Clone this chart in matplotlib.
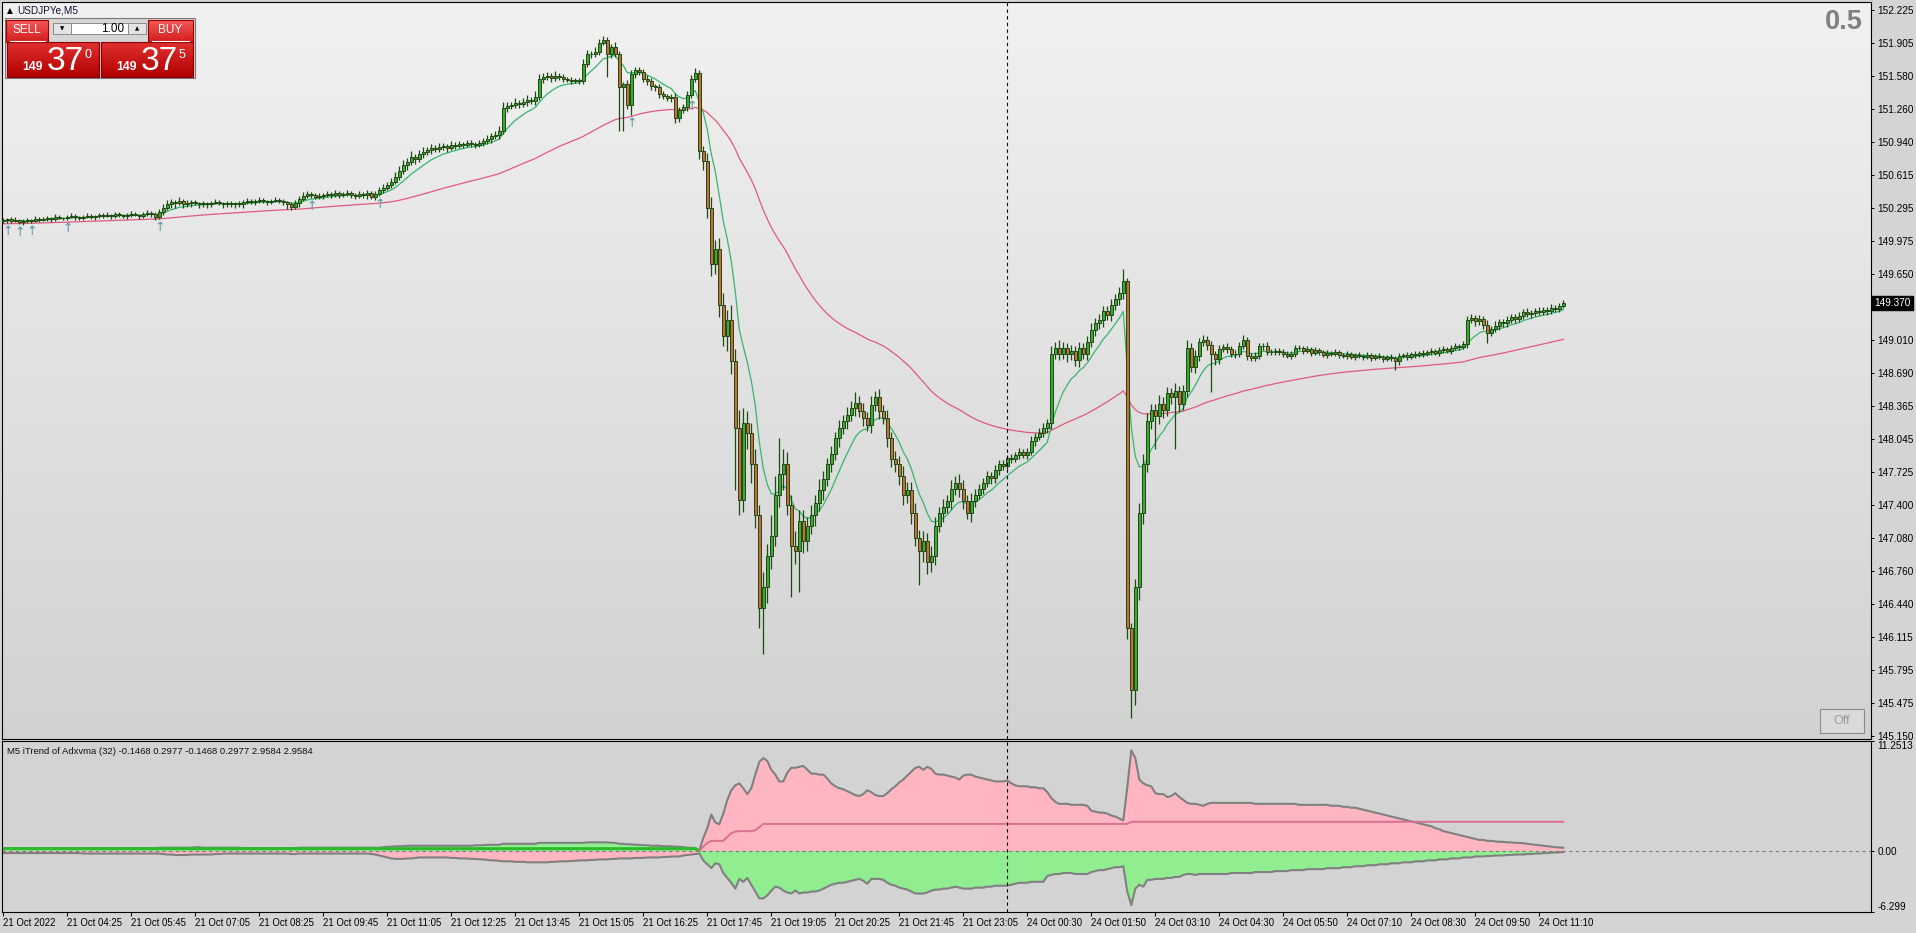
import numpy as np
import pandas as pd
import matplotlib
matplotlib.use('Agg')
import matplotlib.pyplot as plt
from matplotlib.patches import Rectangle

plt.rcParams['font.family'] = ['Liberation Sans', 'DejaVu Sans']
plt.rcParams['font.size'] = 7

W, H = 1916, 933

## --- price data: M5 closes, open = previous close; wicks in pips (0.01) ---
first_open = 150.17
closes = [
    150.18, 150.19, 150.17, 150.18, 150.16, 150.17, 150.18, 150.17, 150.19, 150.18,
    150.19, 150.20, 150.19, 150.21, 150.20, 150.20, 150.21, 150.22, 150.21, 150.20,
    150.21, 150.22, 150.21, 150.22, 150.23, 150.22, 150.23, 150.22, 150.24, 150.23,
    150.22, 150.23, 150.24, 150.23, 150.22, 150.24, 150.25, 150.24, 150.21, 150.26,
    150.30, 150.33, 150.35, 150.34, 150.36, 150.33, 150.34, 150.35, 150.34, 150.33,
    150.34, 150.33, 150.34, 150.35, 150.34, 150.33, 150.34, 150.33, 150.34, 150.33,
    150.35, 150.36, 150.35, 150.36, 150.37, 150.36, 150.35, 150.36, 150.37, 150.36,
    150.35, 150.33, 150.31, 150.34, 150.38, 150.41, 150.43, 150.42, 150.40, 150.41,
    150.42, 150.43, 150.42, 150.44, 150.42, 150.43, 150.44, 150.42, 150.41, 150.43,
    150.42, 150.44, 150.40, 150.43, 150.47, 150.49, 150.52, 150.55, 150.60, 150.66,
    150.71, 150.74, 150.79, 150.77, 150.82, 150.84, 150.86, 150.88, 150.87, 150.89,
    150.90, 150.88, 150.91, 150.90, 150.92, 150.91, 150.93, 150.92, 150.91, 150.93,
    150.95, 150.97, 151.00, 151.01, 151.05, 151.27, 151.29, 151.30, 151.32, 151.31,
    151.33, 151.35, 151.34, 151.38, 151.55, 151.57, 151.58, 151.56, 151.58, 151.57,
    151.55, 151.54, 151.53, 151.54, 151.53, 151.70, 151.80, 151.80, 151.82, 151.90,
    151.93, 151.80, 151.86, 151.80, 151.47, 151.50, 151.30, 151.60, 151.64, 151.62,
    151.55, 151.53, 151.48, 151.47, 151.41, 151.39, 151.37, 151.38, 151.17, 151.25,
    151.28, 151.40, 151.55, 151.61, 150.85, 150.75, 150.30, 149.75, 149.90, 149.35,
    149.05, 149.20, 148.80, 148.15, 147.45, 148.20, 148.10, 147.80, 147.30, 146.40,
    146.60, 146.90, 147.10, 147.50, 147.70, 147.80, 147.40, 147.00, 146.95, 147.25,
    147.05, 147.20, 147.30, 147.42, 147.55, 147.65, 147.80, 147.90, 148.05, 148.15,
    148.22, 148.28, 148.35, 148.40, 148.32, 148.25, 148.18, 148.38, 148.45, 148.32,
    148.25, 148.05, 147.85, 147.80, 147.68, 147.50, 147.55, 147.32, 147.08, 146.95,
    147.05, 146.85, 146.90, 147.20, 147.32, 147.38, 147.44, 147.56, 147.62, 147.56,
    147.44, 147.32, 147.44, 147.50, 147.56, 147.62, 147.68, 147.66, 147.74, 147.80,
    147.78, 147.86, 147.85, 147.89, 147.92, 147.89, 147.92, 148.02, 148.06, 148.10,
    148.15, 148.20, 148.87, 148.93, 148.87, 148.93, 148.87, 148.90, 148.81, 148.93,
    148.87, 148.99, 149.11, 149.17, 149.20, 149.29, 149.25, 149.35, 149.41, 149.47,
    149.58, 146.20, 145.60, 146.60, 147.32, 147.80, 148.22, 148.33, 148.27, 148.39,
    148.33, 148.49, 148.45, 148.51, 148.39, 148.51, 148.93, 148.75, 148.85, 148.99,
    149.01, 148.96, 148.87, 148.82, 148.92, 148.94, 148.92, 148.87, 148.87, 148.95,
    149.01, 148.85, 148.83, 148.85, 148.95, 148.95, 148.89, 148.89, 148.90, 148.89,
    148.87, 148.85, 148.87, 148.93, 148.93, 148.90, 148.92, 148.88, 148.91, 148.89,
    148.86, 148.88, 148.87, 148.89, 148.86, 148.85, 148.87, 148.84, 148.86, 148.85,
    148.84, 148.86, 148.83, 148.85, 148.84, 148.82, 148.84, 148.83, 148.80, 148.85,
    148.86, 148.84, 148.87, 148.86, 148.88, 148.87, 148.89, 148.90, 148.88, 148.91,
    148.92, 148.90, 148.93, 148.95, 148.94, 148.97, 149.20, 149.22, 149.19, 149.21,
    149.16, 149.08, 149.12, 149.15, 149.18, 149.17, 149.20, 149.23, 149.21, 149.24,
    149.28, 149.26, 149.27, 149.29, 149.28, 149.30, 149.29, 149.32, 149.31, 149.34, 149.37,
]
wick_up = [
    2, 1, 2, 3, 1, 2, 2, 1, 3, 2,   2, 2, 1, 3, 2, 1, 2, 3, 2, 1,
    2, 3, 2, 1, 2, 2, 3, 1, 2, 2,   1, 2, 3, 2, 1, 2, 3, 2, 2, 3,
    3, 4, 3, 2, 4, 2, 3, 2, 2, 1,   2, 1, 2, 3, 2, 1, 2, 2, 1, 2,
    2, 3, 2, 2, 3, 2, 1, 2, 3, 2,   2, 1, 2, 3, 3, 4, 3, 2, 2, 3,
    2, 3, 2, 3, 2, 2, 3, 2, 2, 3,   2, 3, 2, 3, 3, 4, 3, 4, 5, 4,
    5, 4, 6, 3, 4, 5, 3, 4, 3, 4,   3, 2, 4, 3, 3, 2, 3, 3, 2, 3,
    3, 4, 3, 4, 4, 6, 4, 3, 5, 3,   4, 5, 3, 6, 5, 4, 4, 3, 5, 3,
    3, 2, 3, 2, 2, 5, 4, 3, 4, 4,   4, 3, 3, 5, 3, 2, 4, 4, 3, 3,
    3, 4, 3, 2, 3, 3, 2, 3, 4, 3,   3, 4, 4, 5, 3, 5, 8, 10, 8, 10,
    12, 10, 15, 12, 18, 15, 12, 10, 15, 10,   15, 12, 20, 18, 35, 15, 12, 10, 15, 10,
    10, 8, 10, 8, 10, 8, 6, 8, 6, 8,   6, 8, 6, 10, 6, 8, 6, 8, 6, 8,
    6, 8, 6, 8, 8, 10, 8, 8, 10, 8,   10, 8, 10, 8, 6, 8, 6, 8, 6, 8,
    8, 6, 8, 6, 5, 4, 5, 4, 5, 4,   4, 3, 4, 3, 4, 3, 4, 5, 4, 5,
    5, 4, 8, 6, 8, 6, 5, 6, 5, 6,   5, 6, 6, 5, 6, 5, 5, 6, 5, 6,
    12, 3, 5, 8, 10, 10, 8, 6, 6, 8,   6, 6, 5, 8, 5, 6, 8, 5, 6, 4,
    5, 4, 4, 3, 4, 3, 4, 3, 4, 4,   5, 3, 3, 4, 3, 3, 4, 3, 3, 3,
    3, 3, 3, 3, 3, 2, 3, 2, 3, 2,   2, 3, 2, 3, 2, 2, 3, 2, 2, 3,
    2, 3, 2, 2, 3, 2, 2, 3, 2, 3,   2, 3, 2, 3, 2, 3, 2, 3, 2, 3,
    3, 2, 3, 3, 2, 3, 4, 4, 3, 4,   3, 4, 3, 4, 3, 3, 4, 3, 3, 4,
    3, 4, 3, 3, 4, 3, 3, 4, 3, 3, 3,
]
wick_dn = [
    2, 3, 2, 1, 2, 3, 2, 2, 1, 2,   1, 2, 3, 2, 1, 2, 2, 1, 3, 2,
    2, 1, 2, 3, 2, 2, 1, 3, 2, 2,   2, 3, 2, 1, 3, 2, 2, 3, 3, 2,
    3, 2, 3, 4, 2, 3, 2, 3, 2, 3,   2, 3, 2, 1, 2, 3, 2, 2, 3, 2,
    3, 2, 2, 3, 2, 2, 3, 2, 1, 2,   3, 4, 3, 2, 3, 2, 2, 3, 2, 2,
    3, 2, 3, 2, 3, 2, 2, 3, 3, 2,   3, 4, 2, 3, 2, 3, 2, 3, 2, 3,
    3, 4, 3, 5, 3, 4, 3, 4, 3, 3,   3, 4, 2, 3, 2, 3, 2, 3, 3, 2,
    3, 3, 4, 3, 4, 3, 4, 3, 3, 4,   3, 4, 3, 4, 3, 4, 3, 4, 3, 3,
    3, 2, 3, 2, 3, 3, 3, 4, 3, 3,   2, 23, 4, 3, 42, 42, 4, 10, 4, 3,
    3, 4, 3, 3, 4, 3, 3, 4, 5, 4,   3, 4, 3, 3, 8, 8, 10, 12, 10, 12,
    10, 15, 12, 60, 15, 12, 15, 18, 12, 20,   45, 15, 12, 10, 12, 15, 10, 50, 12, 40,
    12, 10, 8, 10, 8, 10, 6, 8, 6, 8,   6, 8, 6, 8, 6, 8, 6, 8, 6, 8,
    6, 8, 8, 8, 8, 10, 8, 10, 8, 33,   10, 12, 10, 8, 6, 8, 6, 8, 6, 8,
    8, 6, 8, 6, 4, 5, 4, 5, 4, 5,   4, 3, 4, 3, 4, 3, 4, 3, 4, 3,
    4, 5, 6, 5, 6, 5, 8, 6, 5, 6,   5, 6, 5, 6, 5, 6, 5, 6, 5, 6,
    6, 10, 27, 15, 12, 10, 8, 8, 32, 8,   8, 6, 6, 50, 8, 6, 6, 5, 6, 5,
    4, 5, 37, 5, 4, 3, 4, 3, 4, 3,   3, 4, 3, 3, 3, 4, 3, 3, 3, 3,
    3, 2, 3, 3, 2, 3, 2, 3, 2, 3,   2, 3, 2, 2, 3, 2, 3, 2, 3, 2,
    3, 2, 3, 2, 2, 3, 2, 3, 8, 3,   2, 3, 2, 3, 2, 3, 2, 3, 2, 3,
    3, 2, 3, 2, 3, 2, 4, 3, 4, 3,   4, 10, 3, 3, 4, 3, 3, 3, 4, 3,
    3, 3, 4, 3, 3, 3, 4, 3, 3, 3, 2,
]
fast_ma_start, slow_ma_start = 150.16, 150.14

## --- iTrend of Adxvma (32) buffers ---
ind_up = [
    .25, .25, .25, .25, .25, .25, .25, .25, .25, .25,   .25, .25, .25, .25, .25, .25, .25, .25, .25, .25,
    .25, .25, .25, .25, .25, .25, .25, .25, .25, .25,   .25, .25, .25, .25, .25, .25, .25, .25, .25, .3,
    .3, .3, .3, .3, .3, .3, .3, .3, .35, .35,   .3, .3, .3, .3, .3, .3, .3, .3, .3, .3,
    .25, .25, .25, .25, .25, .25, .25, .25, .25, .25,   .25, .25, .25, .25, .3, .3, .3, .3, .3, .3,
    .3, .3, .3, .3, .3, .3, .3, .3, .3, .3,   .3, .3, .3, .3, .3, .35, .4, .4, .45, .45,
    .45, .5, .5, .5, .5, .5, .5, .5, .5, .5,   .5, .5, .5, .5, .5, .5, .5, .5, .55, .55,
    .55, .6, .6, .6, .6, .7, .7, .7, .7, .7,   .7, .7, .7, .7, .8, .8, .8, .8, .8, .8,
    .8, .8, .8, .8, .8, .8, .85, .85, .85, .85,   .85, .85, .8, .8, .7, .7, .65, .65, .6, .6,
    .55, .55, .5, .5, .5, .45, .45, .45, .4, .4,   .35, .3, .3, .25, 0.0, 1.3, 2.3, 3.7, 2.9, 2.7,
    3.8, 5.2, 6.2, 6.7, 6.9, 6.4, 5.8, 6.4, 7.8, 9.1,   9.5, 9.2, 8.3, 7.8, 7.1, 7.1, 8.0, 8.5, 8.5, 8.6,
    8.7, 8.3, 7.9, 7.9, 7.8, 7.8, 7.4, 6.9, 6.6, 6.4,   6.3, 6.1, 5.9, 5.7, 5.6, 5.8, 6.2, 6.0, 5.7, 5.6,
    5.6, 5.9, 6.3, 6.6, 7.0, 7.3, 7.7, 8.1, 8.5, 8.6,   8.3, 8.6, 8.4, 7.9, 7.8, 7.8, 7.7, 7.6, 7.5, 7.3,
    7.7, 7.8, 7.8, 7.6, 7.5, 7.4, 7.3, 7.2, 7.1, 7.1,   7.1, 7.2, 6.9, 6.7, 6.6, 6.6, 6.6, 6.5, 6.5, 6.4,
    6.4, 6.0, 5.4, 5.0, 4.8, 4.8, 4.8, 4.7, 4.7, 4.7,   4.7, 4.6, 4.1, 4.0, 3.9, 3.9, 3.8, 3.6, 3.5, 3.3,
    3.1, 6.5, 10.3, 9.5, 7.3, 6.9, 6.7, 6.6, 5.9, 5.8,   5.8, 5.5, 5.6, 5.9, 5.5, 5.2, 4.9, 4.8, 4.8, 4.7,
    4.6, 4.8, 4.9, 4.9, 4.9, 4.9, 4.9, 4.9, 4.9, 4.9,   4.9, 4.9, 4.9, 4.8, 4.8, 4.8, 4.8, 4.8, 4.8, 4.8,
    4.8, 4.8, 4.8, 4.8, 4.7, 4.7, 4.7, 4.7, 4.7, 4.7,   4.7, 4.7, 4.6, 4.6, 4.6, 4.5, 4.5, 4.4, 4.4, 4.3,
    4.2, 4.1, 4.0, 3.9, 3.8, 3.7, 3.6, 3.5, 3.4, 3.3,   3.2, 3.1, 3.0, 2.9, 2.8, 2.7, 2.6, 2.5, 2.3, 2.2,
    2.0, 1.9, 1.8, 1.7, 1.6, 1.5, 1.4, 1.3, 1.2, 1.1,   1.1, 1.0, 1.0, 0.95, 0.9, 0.9, 0.85, 0.85, 0.8, 0.8,
    0.75, 0.7, 0.65, 0.6, 0.55, 0.5, 0.45, 0.4, 0.35, 0.32, 0.2977,
]
ind_dn = [
    -.25, -.25, -.25, -.25, -.25, -.25, -.25, -.25, -.25, -.25,   -.25, -.25, -.25, -.25, -.25, -.25, -.25, -.25, -.25, -.25,
    -.3, -.3, -.3, -.3, -.3, -.3, -.3, -.3, -.3, -.3,   -.3, -.3, -.3, -.3, -.3, -.3, -.3, -.3, -.3, -.3,
    -.35, -.4, -.4, -.45, -.45, -.45, -.45, -.4, -.4, -.4,   -.4, -.4, -.4, -.35, -.35, -.3, -.3, -.3, -.3, -.3,
    -.3, -.3, -.3, -.3, -.3, -.3, -.3, -.3, -.3, -.3,   -.3, -.3, -.35, -.35, -.3, -.3, -.3, -.3, -.3, -.3,
    -.3, -.3, -.3, -.3, -.3, -.3, -.3, -.3, -.3, -.3,   -.3, -.3, -.35, -.4, -.5, -.6, -.7, -.8, -.85, -.85,
    -.85, -.8, -.8, -.75, -.7, -.7, -.7, -.7, -.7, -.7,   -.7, -.7, -.75, -.75, -.8, -.8, -.8, -.85, -.85, -.9,
    -.9, -.95, -1.0, -1.0, -1.05, -1.1, -1.1, -1.1, -1.15, -1.15,   -1.15, -1.2, -1.2, -1.2, -1.2, -1.2, -1.2, -1.15, -1.15, -1.1,
    -1.1, -1.1, -1.05, -1.05, -1.0, -1.0, -1.0, -.95, -.95, -.9,   -.9, -.9, -.85, -.85, -.8, -.8, -.8, -.8, -.75, -.75,
    -.75, -.7, -.7, -.7, -.7, -.65, -.65, -.6, -.6, -.6,   -.5, -.45, -.4, -.35, -0.3, -1.0, -1.4, -1.8, -1.3, -1.4,
    -2.3, -2.8, -3.3, -3.9, -2.9, -3.2, -2.8, -3.5, -4.2, -4.9,   -4.9, -4.6, -4.1, -3.7, -3.8, -4.1, -4.3, -4.4, -4.1, -4.4,
    -4.3, -4.3, -4.2, -4.2, -4.1, -3.9, -3.7, -3.5, -3.4, -3.3,   -3.3, -3.2, -3.1, -3.0, -2.9, -3.1, -3.4, -2.9, -2.9, -2.9,
    -3.0, -3.3, -3.5, -3.6, -3.8, -3.9, -4.0, -4.2, -4.4, -4.4,   -4.4, -4.3, -4.1, -4.0, -4.0, -3.9, -3.9, -3.8, -3.7, -3.8,
    -3.9, -3.9, -3.9, -3.8, -3.8, -3.8, -3.7, -3.7, -3.6, -3.6,   -3.6, -3.6, -3.5, -3.4, -3.3, -3.3, -3.3, -3.2, -3.2, -3.2,
    -3.2, -2.6, -2.5, -2.4, -2.4, -2.3, -2.3, -2.3, -2.4, -2.4,   -2.4, -2.4, -2.2, -2.1, -2.0, -2.0, -1.9, -1.8, -1.7, -1.7,
    -1.6, -4.2, -5.6, -3.9, -3.5, -3.7, -3.0, -3.0, -2.9, -2.9,   -2.9, -2.8, -2.8, -2.7, -2.7, -2.5, -2.4, -2.4, -2.5, -2.4,
    -2.4, -2.4, -2.4, -2.4, -2.4, -2.4, -2.4, -2.3, -2.3, -2.3,   -2.3, -2.3, -2.3, -2.2, -2.2, -2.2, -2.2, -2.2, -2.1, -2.1,
    -2.1, -2.1, -2.0, -2.0, -2.0, -2.0, -1.9, -1.9, -1.9, -1.9,   -1.9, -1.8, -1.8, -1.8, -1.8, -1.7, -1.7, -1.7, -1.6, -1.6,
    -1.6, -1.5, -1.5, -1.5, -1.4, -1.4, -1.4, -1.3, -1.3, -1.3,   -1.2, -1.2, -1.2, -1.1, -1.1, -1.1, -1.0, -1.0, -1.0, -0.9,
    -0.9, -0.9, -0.8, -0.8, -0.8, -0.7, -0.7, -0.7, -0.6, -0.6,   -0.6, -0.55, -0.55, -0.5, -0.5, -0.5, -0.45, -0.45, -0.4, -0.4,
    -0.4, -0.35, -0.35, -0.3, -0.3, -0.25, -0.25, -0.2, -0.2, -0.18, -0.1468,
]
ind_level = [
    .2, .2, .2, .2, .2, .2, .2, .2, .2, .2,   .2, .2, .2, .2, .2, .2, .2, .2, .2, .2,
    .2, .2, .2, .2, .2, .2, .2, .2, .2, .2,   .2, .2, .2, .2, .2, .2, .2, .2, .2, .2,
    .2, .2, .2, .2, .2, .2, .2, .2, .2, .2,   .2, .2, .2, .2, .2, .2, .2, .2, .2, .2,
    .2, .2, .2, .2, .2, .2, .2, .2, .2, .2,   .2, .2, .2, .2, .2, .2, .2, .2, .2, .2,
    .2, .2, .2, .2, .2, .2, .2, .2, .2, .2,   .2, .2, .2, .2, .2, .2, .2, .2, .2, .2,
    .2, .2, .2, .2, .2, .2, .2, .2, .2, .2,   .2, .2, .2, .2, .2, .2, .2, .2, .2, .2,
    .2, .2, .2, .2, .2, .2, .2, .2, .2, .2,   .2, .2, .2, .2, .2, .2, .2, .2, .2, .2,
    .2, .2, .2, .2, .2, .2, .2, .2, .2, .2,   .2, .2, .2, .2, .2, .2, .2, .2, .2, .2,
    .2, .2, .2, .2, .2, .2, .2, .2, .2, .2,   .2, .2, .2, .2, 0.0, 0.4, 0.8, 1.0, 1.0, 1.0,
    1.0, 1.4, 1.8, 1.95, 2.0, 2.0, 2.0, 2.0, 2.1, 2.4,
    2.74, 2.74, 2.74, 2.74, 2.74, 2.74, 2.74, 2.74, 2.74, 2.74,   2.74, 2.74, 2.74, 2.74, 2.74, 2.74, 2.74, 2.74, 2.74, 2.74,
    2.74, 2.74, 2.74, 2.74, 2.74, 2.74, 2.74, 2.74, 2.74, 2.74,   2.74, 2.74, 2.74, 2.74, 2.74, 2.74, 2.74, 2.74, 2.74, 2.74,
    2.74, 2.74, 2.74, 2.74, 2.74, 2.74, 2.74, 2.74, 2.74, 2.74,   2.74, 2.74, 2.74, 2.74, 2.74, 2.74, 2.74, 2.74, 2.74, 2.74,
    2.74, 2.74, 2.74, 2.74, 2.74, 2.74, 2.74, 2.74, 2.74, 2.74,   2.74, 2.74, 2.74, 2.74, 2.74, 2.74, 2.74, 2.74, 2.74, 2.74,
    2.74, 2.74, 2.74, 2.74, 2.74, 2.74, 2.74, 2.74, 2.74, 2.74,   2.74, 2.74,
    2.96, 2.96, 2.96, 2.96, 2.96, 2.96, 2.96, 2.96,
    2.96, 2.96, 2.96, 2.96, 2.96, 2.96, 2.96, 2.96, 2.96, 2.96,   2.96, 2.96, 2.96, 2.96, 2.96, 2.96, 2.96, 2.96, 2.96, 2.96,
    2.96, 2.96, 2.96, 2.96, 2.96, 2.96, 2.96, 2.96, 2.96, 2.96,   2.96, 2.96, 2.96, 2.96, 2.96, 2.96, 2.96, 2.96, 2.96, 2.96,
    2.96, 2.96, 2.96, 2.96, 2.96, 2.96, 2.96, 2.96, 2.96, 2.96,   2.96, 2.96, 2.96, 2.96, 2.96, 2.96, 2.96, 2.96, 2.96, 2.96,
    2.96, 2.96, 2.96, 2.96, 2.96, 2.96, 2.96, 2.96, 2.96, 2.96,   2.96, 2.96, 2.96, 2.96, 2.96, 2.96, 2.96, 2.96, 2.96, 2.96,
    2.96, 2.96, 2.96, 2.96, 2.96, 2.96, 2.96, 2.96, 2.96, 2.96,   2.96, 2.96, 2.96, 2.96, 2.96, 2.96, 2.96, 2.96, 2.96, 2.96,
    2.9584,
]
trend_flip = 174       # bar where the indicator turns bearish
day_break = 251        # first bar of 24 Oct
arrow_bars = [1, 4, 7, 16, 39, 77, 94, 157, 172]
last_price = 149.370

price_ticks = [152.225, 151.905, 151.580, 151.260, 150.940, 150.615, 150.295, 149.975,
               149.650, 149.330, 149.010, 148.690, 148.365, 148.045, 147.725, 147.400,
               147.080, 146.760, 146.440, 146.115, 145.795, 145.475, 145.150]
ind_ticks = [-6.299, 0.0, 11.2513]
ind_tick_labels = ['-6.299', '0.00', '11.2513']
time_labels = ['21 Oct 2022', '21 Oct 04:25', '21 Oct 05:45', '21 Oct 07:05', '21 Oct 08:25',
               '21 Oct 09:45', '21 Oct 11:05', '21 Oct 12:25', '21 Oct 13:45', '21 Oct 15:05',
               '21 Oct 16:25', '21 Oct 17:45', '21 Oct 19:05', '21 Oct 20:25', '21 Oct 21:45',
               '21 Oct 23:05', '24 Oct 00:30', '24 Oct 01:50', '24 Oct 03:10', '24 Oct 04:30',
               '24 Oct 05:50', '24 Oct 07:10', '24 Oct 08:30', '24 Oct 09:50', '24 Oct 11:10']
bars_per_label = 16

## --- derived OHLC and moving averages ---
c = np.array(closes)
o = np.r_[first_open, c[:-1]]
hi = np.maximum(o, c) + np.array(wick_up) / 100
lo = np.minimum(o, c) - np.array(wick_dn) / 100
x = np.arange(len(c))
ma_fast = pd.Series(np.r_[fast_ma_start, c]).ewm(span=10, adjust=False).mean().values[1:]
ma_slow = pd.Series(np.r_[slow_ma_start, c]).ewm(span=75, adjust=False).mean().values[1:]

EDGE = '#1c4a12'
BULL = '#3aa832'
BEAR = '#cd6a3a'


def px_box(x0, y0, x1, y1):
    return [x0 / W, 1 - y1 / H, (x1 - x0) / W, (y1 - y0) / H]


fig = plt.figure(figsize=(W / 100, H / 100), dpi=100, facecolor='#d4d4d4')
ax = fig.add_axes(px_box(2, 2, 1871, 739))
axi = fig.add_axes(px_box(2, 741, 1871, 912))

xlim = ((2 - 3.3) / 4, (1871 - 3.3) / 4)
k = (152.225 - 145.150) / (736 - 10)
ylim = (145.150 - 3 * k, 152.225 + 8 * k)

## main chart background gradient
shade = np.linspace(0.822, 0.945, 256)
bg = np.repeat(shade[:, None, None], 3, axis=2).repeat(2, axis=1)
ax.imshow(bg, extent=(xlim[0], xlim[1], ylim[0], ylim[1]), origin='lower',
          aspect='auto', zorder=0)

## moving averages
ax.plot(x, ma_slow, color='#e05a7e', lw=0.9, zorder=2)
ax.plot(x, ma_fast, color='#36b56e', lw=0.9, zorder=2)

## candles
up_bar = c >= o
ax.vlines(x, lo, hi, color=EDGE, lw=0.9, zorder=3)
ax.bar(x, np.abs(c - o), bottom=np.minimum(o, c), width=0.72,
       color=np.where(up_bar, BULL, BEAR), edgecolor=EDGE, lw=0.7, zorder=4)

## signal arrows
for b in arrow_bars:
    ax.text(b, lo[b] - 0.02, '\u2191', fontsize=9, color='#5a98a4', ha='center', va='top',
            family=['DejaVu Sans'], zorder=4)

ax.axvline(day_break, color='black', lw=0.8, ls=(0, (3, 3)), zorder=5)
ax.set_xlim(*xlim)
ax.set_ylim(*ylim)
ax.set_xticks([])
ax.yaxis.tick_right()
ax.set_yticks(price_ticks, [f'{p:.3f}' for p in price_ticks])
ax.tick_params(axis='y', length=2.5, width=0.7, pad=2, labelsize=7.2, colors='black')
for s in ax.spines.values():
    s.set_linewidth(0.8)
    s.set_color('black')

ax.annotate(f'{last_price:.3f}', xy=(1, last_price), xycoords=ax.get_yaxis_transform(),
            xytext=(2.5, 0), textcoords='offset points', ha='left', va='center',
            color='white', fontsize=7.2, annotation_clip=False,
            bbox=dict(boxstyle='square,pad=0.22', facecolor='black', edgecolor='black'),
            zorder=10)

## indicator window
axi.set_facecolor('#d3d3d3')
up = np.array(ind_up)
dn = np.array(ind_dn)
lev = np.array(ind_level)
e = slice(0, trend_flip + 1)
l = slice(trend_flip, None)
axi.fill_between(x[e], 0, up[e], color='#90ee90', lw=0)
axi.fill_between(x[e], 0, dn[e], color='#ffb6c1', lw=0)
axi.fill_between(x[l], 0, up[l], color='#ffb6c1', lw=0)
axi.fill_between(x[l], 0, dn[l], color='#90ee90', lw=0)
axi.plot(x, up, color='#808080', lw=1.5)
axi.plot(x, dn, color='#808080', lw=1.5)
axi.axhline(0, color='#7a7a7a', lw=0.8, ls=(0, (3, 3)))
axi.plot(x[e], lev[e], color='#2dbb2d', lw=2.2)
axi.plot(x[l], lev[l], color='#d8708f', lw=1.4)
axi.axvline(day_break, color='black', lw=0.8, ls=(0, (3, 3)))
axi.set_xlim(*xlim)
axi.set_ylim(-6.299, 11.2513)
axi.yaxis.tick_right()
axi.set_yticks(ind_ticks, ind_tick_labels)
axi.tick_params(axis='y', length=2.5, width=0.7, pad=2, labelsize=7.2)
yl = axi.get_yticklabels()
yl[0].set_va('bottom')
yl[-1].set_va('top')
axi.set_xticks(np.arange(len(time_labels)) * bars_per_label, time_labels)
axi.tick_params(axis='x', length=3, width=0.7, pad=1.5, labelsize=6.9)
for t in axi.get_xticklabels():
    t.set_ha('left')
for s in axi.spines.values():
    s.set_linewidth(0.8)
    s.set_color('black')

## overlay in pixel coordinates: trade panel, labels, buttons
ov = fig.add_axes([0, 0, 1, 1], zorder=20)
ov.set_xlim(0, W)
ov.set_ylim(H, 0)
ov.axis('off')
ov.patch.set_alpha(0)


def grad_box(x0, y0, x1, y1, c_top, c_bot, ec=None):
    t = np.array(matplotlib.colors.to_rgb(c_top))
    b = np.array(matplotlib.colors.to_rgb(c_bot))
    g = np.linspace(0, 1, 64)[:, None, None]
    arr = np.repeat(t + (b - t) * g, 2, axis=1)
    ov.imshow(arr, extent=(x0, x1, y1, y0), origin='upper', aspect='auto', zorder=21)
    if ec:
        ov.add_patch(Rectangle((x0, y0), x1 - x0, y1 - y0, fill=False, ec=ec, lw=0.8, zorder=22))


ov.text(9.5, 10.5, '\u25B2', fontsize=5.5, ha='center', va='center', color='black',
        family=['DejaVu Sans'])
ov.text(17, 10.5, 'USDJPYe,M5', fontsize=7.2, ha='left', va='center', color='#101030')

ov.add_patch(Rectangle((5, 18), 190, 60, fc='#d6d6d6', ec='#7a7a7a', lw=0.8, zorder=20.5))
grad_box(6, 20, 48, 42, '#f25a5a', '#d41c1c', ec='#a00000')
grad_box(148, 20, 193, 42, '#f25a5a', '#d41c1c', ec='#a00000')
ov.plot([10, 45], [41, 41], color='white', lw=0.8, zorder=23)
ov.plot([152, 189], [41, 41], color='white', lw=0.8, zorder=23)
ov.text(27, 30, 'SELL', fontsize=8.5, color='white', ha='center', va='center', zorder=23)
ov.text(170.5, 30, 'BUY', fontsize=8.5, color='white', ha='center', va='center', zorder=23)
ov.add_patch(Rectangle((53, 23), 18, 11, fc='#e4e4e4', ec='#8c8c8c', lw=0.7, zorder=22))
ov.add_patch(Rectangle((71, 23), 57, 11, fc='white', ec='#8c8c8c', lw=0.7, zorder=22))
ov.add_patch(Rectangle((128, 23), 18, 11, fc='#e4e4e4', ec='#8c8c8c', lw=0.7, zorder=22))
ov.text(62, 28.5, '\u25BC', fontsize=4, ha='center', va='center', family=['DejaVu Sans'], zorder=23)
ov.text(137, 28.5, '\u25B2', fontsize=4, ha='center', va='center', family=['DejaVu Sans'], zorder=23)
ov.text(124, 28.7, '1.00', fontsize=8.5, ha='right', va='center', zorder=23)

bid_parts = ('149', '37', '0')
ask_parts = ('149', '37', '5')
for dx, parts in ((0, bid_parts), (94, ask_parts)):
    grad_box(7 + dx, 42, 99 + dx, 77, '#e23030', '#b00000', ec='#8a0000')
    ov.text(43 + dx, 70.5, parts[0], fontsize=8.8, fontweight='bold', color='white',
            ha='right', va='baseline', zorder=23)
    ov.text(46.5 + dx, 70.5, parts[1], fontsize=24, color='white',
            ha='left', va='baseline', zorder=23)
    ov.text(84.5 + dx, 57.5, parts[2], fontsize=9, color='white',
            ha='left', va='baseline', zorder=23)

ov.text(1863, 29, '0.5', fontsize=19.5, fontweight='bold', color='#808080',
        ha='right', va='baseline')

ov.add_patch(Rectangle((1820, 709), 44, 24, fc='#dadada', ec='#8c8c8c', lw=0.8, zorder=21))
ov.text(1842, 721.5, 'Off', fontsize=9, color='#9a9a9a', ha='center', va='center', zorder=22)

ov.text(7, 751, 'M5 iTrend of Adxvma (32) -0.1468 0.2977 -0.1468 0.2977 2.9584 2.9584',
        fontsize=6.8, ha='left', va='center', color='#111111')

fig.savefig('out.png', dpi=100, facecolor=fig.get_facecolor())
